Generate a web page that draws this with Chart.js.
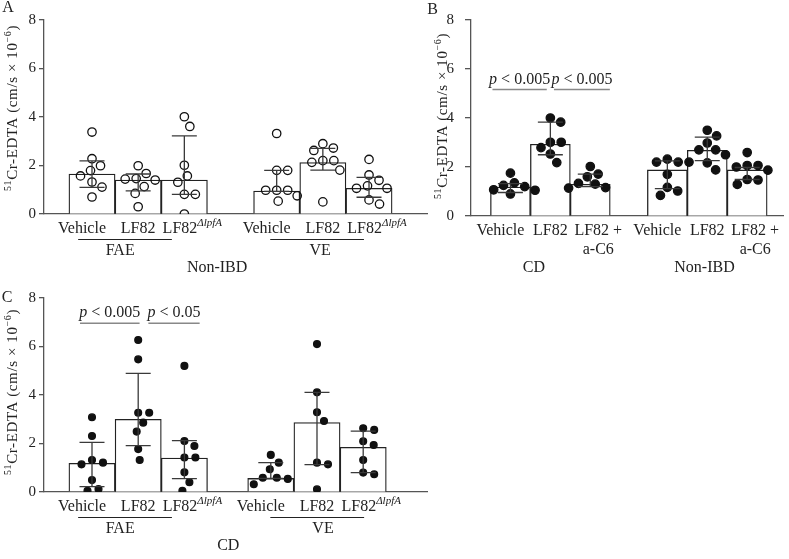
<!DOCTYPE html>
<html lang="en">
<head>
<meta charset="UTF-8">
<title>51Cr-EDTA permeability</title>
<script src="https://cdn.jsdelivr.net/npm/chart.js"></script>
<style>
  body { margin: 0; background: #fff; }
  #wrap { position: relative; width: 789px; height: 559px; overflow: hidden; }
  canvas { position: absolute; }
</style>
</head>
<body>
<div id="wrap">
  <canvas id="panelA"></canvas>
  <canvas id="panelB"></canvas>
  <canvas id="panelC"></canvas>
</div>
<script>
// ---- panel A: non-IBD tissue, open circles ----
const labelsA = ['Vehicle', 'LF82', 'LF82^ΔlpfA', 'Vehicle', 'LF82', 'LF82^ΔlpfA'];
const barsA = [1.65, 1.40, 1.40, 0.95, 2.12, 1.06];
const lowA = [1.10, 0.95, 0.81, 0.93, 1.81, 0.69];
const highA = [2.19, 1.65, 3.22, 1.80, 2.71, 1.51];
const pointsA = [
  [3.38, 2.28, 1.99, 1.79, 1.57, 1.32, 1.11, 0.70],
  [1.99, 1.67, 1.46, 1.44, 1.40, 1.13, 0.85, 0.30],
  [4.01, 3.61, 2.01, 1.57, 1.31, 0.81, 0.81, 0.00],
  [3.32, 1.80, 1.80, 0.98, 0.98, 0.98, 0.75, 0.53],
  [2.90, 2.72, 2.62, 2.20, 2.20, 2.13, 1.81, 0.50],
  [2.25, 1.61, 1.39, 1.16, 1.06, 1.06, 0.58, 0.41]
];

// ---- panel B: CD vs non-IBD, anti-CEACAM6 ----
const labelsB = ['Vehicle', 'LF82', 'LF82 +\na-C6', 'Vehicle', 'LF82', 'LF82 +\na-C6'];
const barsB = [1.18, 2.93, 1.29, 1.88, 2.68, 1.88];
const lowB = [0.96, 2.50, 1.20, 1.12, 2.26, 1.49];
const highB = [1.32, 3.83, 1.71, 2.25, 3.22, 1.98];
const pointsB = [
  [1.75, 1.35, 1.25, 1.20, 1.07, 1.05, 0.90],
  [4.00, 3.83, 3.01, 3.01, 2.79, 2.53, 2.18],
  [2.02, 1.71, 1.60, 1.33, 1.30, 1.16, 1.14],
  [2.32, 2.20, 2.20, 2.20, 1.70, 1.17, 1.02, 0.84],
  [3.50, 3.27, 2.98, 2.70, 2.70, 2.50, 2.17, 1.88],
  [2.59, 2.06, 2.06, 2.00, 1.87, 1.49, 1.47, 1.29]
];

// ---- panel C: CD tissue, filled dots ----
const labelsC = ['Vehicle', 'LF82', 'LF82^ΔlpfA', 'Vehicle', 'LF82', 'LF82^ΔlpfA'];
const barsC = [1.18, 3.00, 1.40, 0.56, 2.86, 1.84];
const lowC = [0.22, 1.91, 0.55, 0.56, 1.13, 0.80];
const highC = [2.05, 4.89, 2.12, 1.21, 4.11, 2.51];
const pointsC = [
  [3.08, 2.31, 1.32, 1.21, 1.14, 0.49, 0.12, 0.05],
  [6.27, 5.47, 3.27, 3.27, 2.86, 2.49, 1.77, 1.32],
  [5.20, 2.10, 1.90, 1.42, 1.42, 0.81, 0.40, 0.05],
  [1.53, 1.21, 0.94, 0.59, 0.59, 0.54, 0.32],
  [6.10, 4.11, 3.29, 2.93, 1.21, 1.14, 0.11],
  [2.63, 2.56, 2.09, 1.94, 1.32, 0.80, 0.73]
];

const yTicks = [0, 2, 4, 6, 8];

const FONT = '16px "Liberation Serif", "DejaVu Serif", serif';
const SUP = 'italic 11px "Liberation Serif", "DejaVu Serif", serif';
const INK = '#222';
const AXIS = '#555';
const NUDGE = { 'Vehicle': -10, 'LF82^ΔlpfA': 8, 'LF82 +\na-C6': 8 };

// simple beeswarm: each point takes the x offset nearest the centre that does not overlap
function swarm(values, pxX, pxY, d) {
  const placed = [];
  return values.map(v => {
    const py = v * pxY;
    let dx = 0;
    for (let k = 0; k < 400; k++) {
      const c = (k % 2 ? 1 : -1) * Math.ceil(k / 2) * 0.5;
      if (placed.every(p => (c - p[0]) ** 2 + (py - p[1]) ** 2 >= d * d)) { dx = c; break; }
    }
    placed.push([dx, py]);
    return dx / pxX;
  });
}

function drawRich(ctx, parts, x, y, align) {
  let w = 0;
  parts.forEach(p => { ctx.font = p.font; p.w = ctx.measureText(p.t).width; w += p.w; });
  let x0 = align === 'center' ? x - w / 2 : x;
  ctx.textAlign = 'left';
  ctx.textBaseline = 'middle';
  parts.forEach(p => {
    ctx.font = p.font;
    ctx.fillText(p.t, x0, y + (p.dy || 0));
    x0 += p.w;
  });
}

function drawCatLabel(ctx, text, x, y) {
  x += NUDGE[text] || 0;
  const lines = text.split('\n');
  lines.forEach((line, li) => {
    const [base, sup] = line.split('^');
    const parts = [{ t: base, font: FONT }];
    if (sup) parts.push({ t: sup, font: SUP, dy: -6 });
    drawRich(ctx, parts, x, y + li * 19, 'center');
  });
}

function makePanel(p) {
  const el = document.getElementById(p.id);
  el.width = p.w; el.height = p.h;
  el.style.left = p.left + 'px'; el.style.top = p.top + 'px';
  el.style.width = p.w + 'px'; el.style.height = p.h + 'px';

  const a = p.area;
  const pxY = (a.b - a.t) / 8;
  const xMin = -(p.zeroPx - a.l) / p.unitPx;
  const xMax = (a.r - p.zeroPx) / p.unitPx;

  const barData = p.bars.map((v, i) => ({ x: p.pos[i], y: v }));
  const dotData = [];
  p.points.forEach((vals, i) => {
    const offs = swarm(vals, p.unitPx, pxY, 11);
    vals.forEach((v, j) => dotData.push({ x: p.pos[i] + offs[j], y: v }));
  });

  const overlay = {
    id: 'overlay' + p.letter,
    afterDatasetsDraw(chart) {
      const ctx = chart.ctx, xs = chart.scales.x, ys = chart.scales.y;
      ctx.save();
      ctx.strokeStyle = '#3a3a3a';
      ctx.lineWidth = 1.3;
      p.pos.forEach((pos, i) => {
        const x = xs.getPixelForValue(pos);
        const yl = ys.getPixelForValue(p.lo[i]), yh = ys.getPixelForValue(p.hi[i]);
        ctx.beginPath();
        ctx.moveTo(x, yl); ctx.lineTo(x, yh);
        ctx.moveTo(x - 12.5, yl); ctx.lineTo(x + 12.5, yl);
        ctx.moveTo(x - 12.5, yh); ctx.lineTo(x + 12.5, yh);
        ctx.stroke();
      });
      ctx.restore();
    },
    afterDraw(chart) {
      const ctx = chart.ctx, xs = chart.scales.x, ys = chart.scales.y;
      const base = chart.chartArea.bottom;
      ctx.save();
      ctx.fillStyle = INK;
      // category labels
      p.labels.forEach((lab, i) => drawCatLabel(ctx, lab, xs.getPixelForValue(p.pos[i]), base + 15));
      // group labels
      p.groups.forEach(g => {
        if (g.line) {
          ctx.strokeStyle = INK; ctx.lineWidth = 1.2;
          ctx.beginPath();
          ctx.moveTo(xs.getPixelForValue(g.from), base + 25.5);
          ctx.lineTo(xs.getPixelForValue(g.to), base + 25.5);
          ctx.stroke();
        }
        drawRich(ctx, [{ t: g.text, font: FONT }], xs.getPixelForValue(g.tx), base + g.ty, 'center');
      });
      if (p.superLabel) {
        drawRich(ctx, [{ t: p.superLabel.text, font: FONT }], xs.getPixelForValue(p.superLabel.x), base + 54, 'center');
      }
      // significance bars
      (p.sig || []).forEach(s => {
        const y = ys.getPixelForValue(p.sigY);
        const x1 = xs.getPixelForValue(s.from), x2 = xs.getPixelForValue(s.to);
        ctx.strokeStyle = '#888'; ctx.lineWidth = 1.5;
        ctx.beginPath(); ctx.moveTo(x1, y); ctx.lineTo(x2, y); ctx.stroke();
        drawRich(ctx, [
          { t: 'p', font: 'italic ' + FONT },
          { t: ' < ' + s.text, font: FONT }
        ], (x1 + x2) / 2, y - 10, 'center');
      });
      // y-axis title, rotated
      ctx.translate(p.titleX, p.titleY);
      ctx.rotate(-Math.PI / 2);
      ctx.letterSpacing = '0.6px';
      drawRich(ctx, [
        { t: '51', font: '10px "Liberation Serif", serif', dy: -5 },
        { t: 'Cr-EDTA (cm/s × 10', font: '15px "Liberation Serif", serif' },
        { t: '−6', font: '10px "Liberation Serif", serif', dy: -5 },
        { t: ')', font: '15px "Liberation Serif", serif' }
      ], 0, 0, 'center');
      ctx.restore();
      // panel letter
      ctx.save();
      ctx.fillStyle = INK;
      ctx.font = '16px "Liberation Serif", serif';
      ctx.textAlign = 'center'; ctx.textBaseline = 'middle';
      ctx.fillText(p.letter, p.letterX, p.letterY);
      ctx.restore();
    }
  };

  return new Chart(el, {
    type: 'scatter',
    data: {
      datasets: [
        {
          type: 'bar',
          data: barData,
          backgroundColor: '#fff',
          borderColor: INK,
          borderWidth: 1.3,
          barPercentage: 1,
          categoryPercentage: 1,
          order: 2
        },
        {
          type: 'scatter',
          data: dotData,
          pointRadius: p.radius,
          pointBorderWidth: 1.3,
          pointBorderColor: '#111',
          pointBackgroundColor: p.filled ? '#111' : 'rgba(255,255,255,0)',
          order: 1
        }
      ]
    },
    options: {
      responsive: false,
      animation: false,
      events: [],
      layout: { padding: { left: 0, top: a.t, right: p.w - a.r, bottom: 0 } },
      plugins: { legend: { display: false }, tooltip: { enabled: false } },
      scales: {
        x: {
          type: 'linear',
          min: xMin,
          max: xMax,
          offset: false,
          ticks: { display: false },
          grid: { display: false },
          border: { display: true, color: AXIS, width: 1.3 },
          afterFit: s => { s.height = p.h - a.b; }
        },
        y: {
          min: 0,
          max: 8,
          afterBuildTicks: s => { s.ticks = yTicks.map(v => ({ value: v })); },
          ticks: { color: INK, padding: p.tickPad, font: { family: '"Liberation Serif", serif', size: 15 } },
          grid: { drawOnChartArea: false, drawTicks: true, tickLength: p.tickLen, color: AXIS, lineWidth: 1.3 },
          border: { display: true, color: AXIS, width: 1.3 },
          afterFit: s => { s.width = a.l; }
        }
      }
    },
    plugins: [overlay]
  });
}

makePanel({
  id: 'panelA', letter: 'A', letterX: 8, letterY: 8,
  left: 0, top: 0, w: 440, h: 280,
  area: { l: 44, t: 20, r: 427, b: 214 }, zeroPx: 92, unitPx: 46.17,
  pos: [0, 1, 2, 4, 5, 6],
  labels: labelsA, bars: barsA, lo: lowA, hi: highA, points: pointsA,
  filled: false, radius: 4.2, tickPad: 3, tickLen: 5,
  groups: [
    { from: -0.30, to: 1.73, tx: 0.61, ty: 37, text: 'FAE', line: true },
    { from: 3.86, to: 5.89, tx: 4.94, ty: 37, text: 'VE', line: true }
  ],
  superLabel: { text: 'Non-IBD', x: 2.71 },
  titleX: 13, titleY: 108
});

makePanel({
  id: 'panelB', letter: 'B', letterX: 32.5, letterY: 9.5,
  left: 400, top: 0, w: 389, h: 280,
  area: { l: 71, t: 9.5, r: 388, b: 216 }, zeroPx: 111, unitPx: 40.5,
  pos: [0, 1, 2, 3.93, 4.93, 5.93],
  labels: labelsB, bars: barsB, lo: lowB, hi: highB, points: pointsB,
  filled: true, radius: 4.2, tickPad: 11, tickLen: 6,
  groups: [
    { tx: 0.59, ty: 52, text: 'CD', line: false },
    { tx: 4.86, ty: 52, text: 'Non-IBD', line: false }
  ],
  sig: [
    { from: -0.45, to: 0.91, text: '0.005' },
    { from: 1.09, to: 2.49, text: '0.005' }
  ],
  sigY: 5.16,
  titleX: 43, titleY: 116
});

makePanel({
  id: 'panelC', letter: 'C', letterX: 7, letterY: 18,
  left: 0, top: 280, w: 440, h: 279,
  area: { l: 44, t: 18, r: 427, b: 212 }, zeroPx: 92, unitPx: 46.2,
  pos: [0, 1, 2, 3.87, 4.87, 5.87],
  labels: labelsC, bars: barsC, lo: lowC, hi: highC, points: pointsC,
  filled: true, radius: 3.4, tickPad: 3, tickLen: 5,
  groups: [
    { from: -0.30, to: 1.73, tx: 0.61, ty: 37, text: 'FAE', line: true },
    { from: 3.86, to: 5.89, tx: 5.0, ty: 37, text: 'VE', line: true }
  ],
  superLabel: { text: 'CD', x: 2.95 },
  sig: [
    { from: -0.26, to: 1.03, text: '0.005' },
    { from: 1.22, to: 2.33, text: '0.05' }
  ],
  sigY: 6.96,
  titleX: 13, titleY: 112
});
</script>
</body>
</html>
